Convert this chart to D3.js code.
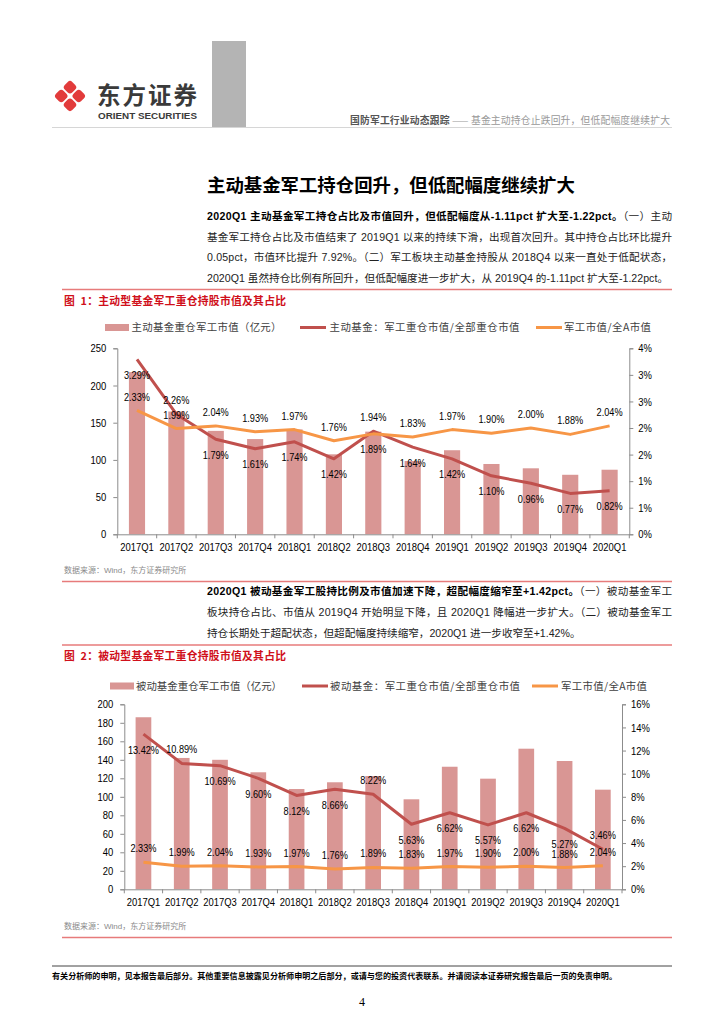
<!DOCTYPE html>
<html><head><meta charset="utf-8">
<script src="https://cdn.jsdelivr.net/npm/d3@7"></script>
<style>
body{margin:0;background:#fff;}
svg{display:block;}
</style></head><body>
<svg id="page" width="724" height="1024"></svg>
<script>
// ---------------- DATA ----------------
const categories = ['2017Q1','2017Q2','2017Q3','2017Q4','2018Q1','2018Q2','2018Q3','2018Q4','2019Q1','2019Q2','2019Q3','2019Q4','2020Q1'];
const activeValue  = [218, 165, 139, 128, 141, 107.5, 138, 98.5, 113, 94.5, 88.7, 80, 86.8];
const activeShare  = [3.29, 2.26, 1.79, 1.61, 1.74, 1.42, 1.94, 1.64, 1.42, 1.10, 0.96, 0.77, 0.82];
const milShare     = [2.33, 1.99, 2.04, 1.93, 1.97, 1.76, 1.89, 1.83, 1.97, 1.90, 2.00, 1.88, 2.04];
const passiveValue = [186, 142, 140, 126.5, 108.4, 115.7, 122.5, 97.3, 132.5, 119.6, 152, 138.7, 107.7];
const passiveShare = [13.42, 10.89, 10.69, 9.60, 8.12, 8.66, 8.22, 5.63, 6.62, 5.57, 6.62, 5.27, 3.46];

const leftTicks1 = [0, 50, 100, 150, 200, 250];
const rightTicks1 = [0, 0.5, 1, 1.5, 2, 2.5, 3, 3.5];
const rightTickLabels1 = ['0%','1%','1%','2%','2%','3%','3%','4%'];
const leftTicks2 = [0, 20, 40, 60, 80, 100, 120, 140, 160, 180, 200];
const rightTicks2 = [0, 2, 4, 6, 8, 10, 12, 14, 16];
const rightTickLabels2 = ['0%','2%','4%','6%','8%','10%','12%','14%','16%'];

const legend1 = ['主动基金重仓军工市值（亿元）', '主动基金：军工重仓市值/全部重仓市值', '军工市值/全A市值'];
const legend2 = ['被动基金重仓军工市值（亿元）', '被动基金：军工重仓市值/全部重仓市值', '军工市值/全A市值'];

// label placement (a = above point, b = below point)
const activeLabelPos  = ['b','a','b','b','b','b','a','b','b','b','b','b','b'];
const milLabelPos1    = ['a','a','a','a','a','a','b','a','a','a','a','a','a'];
const passiveLabelPos = ['b','a','b','b','b','b','a','b','b','b','b','b','a'];
const milLabelPos2    = ['a','a','a','a','a','a','a','a','a','a','a','a','a'];

// ---------------- STYLE ----------------
const CJK = '"Noto Sans CJK SC", sans-serif';
const BODY = '"Liberation Sans", "Noto Sans CJK SC", sans-serif';
const NUM = '"Liberation Sans", sans-serif';
const C_BAR = '#D99694', C_RED = '#C0504D', C_ORG = '#F79646', C_AXIS = '#8C8C8C';
const C_TITLE = '#D0101B', C_RULE = '#E77B7B';

const svg = d3.select('#page');

// narrow the numeric labels (Calibri-like proportions)
function condense(sel, f) {
  sel.each(function () {
    const L = this.getComputedTextLength();
    this.setAttribute('textLength', L * f);
    this.setAttribute('lengthAdjust', 'spacingAndGlyphs');
  });
}

// ---------------- HEADER ----------------
const logo = svg.append('g').attr('transform','translate(70,96) rotate(45)');
const s = 10.6, gap = 1.8;
[[-1,-1],[1,-1],[-1,1],[1,1]].forEach(([i,j]) => {
  logo.append('rect')
    .attr('x', i < 0 ? -s - gap/2 : gap/2).attr('y', j < 0 ? -s - gap/2 : gap/2)
    .attr('width', s).attr('height', s).attr('rx', 3.2).attr('fill', '#E23B3B');
});
svg.append('text').attr('x', 97).attr('y', 103.5).attr('font-family', CJK).attr('font-weight', 700)
  .attr('font-size', 23.5).attr('fill', '#3a3a3a').attr('textLength', 100).text('东方证券');
svg.append('text').attr('x', 98).attr('y', 118.5).attr('font-family', '"Liberation Sans", sans-serif').attr('font-weight', 700)
  .attr('font-size', 8.2).attr('fill', '#3a3a3a').attr('textLength', 99).attr('lengthAdjust','spacingAndGlyphs').text('ORIENT SECURITIES');
svg.append('rect').attr('x', 212).attr('y', 41).attr('width', 34).attr('height', 86).attr('fill', '#B4B4B4');
svg.append('line').attr('x1', 52).attr('x2', 672).attr('y1', 127.5).attr('y2', 127.5).attr('stroke', '#D6D6D6').attr('stroke-width', 1.2);
const ht = svg.append('text').attr('x', 670).attr('y', 124).attr('text-anchor', 'end')
  .attr('font-family', CJK).attr('font-size', 9.8).attr('textLength', 320).attr('lengthAdjust', 'spacing');
ht.append('tspan').attr('fill', '#555').attr('font-weight', 700).text('国防军工行业动态跟踪');
ht.append('tspan').attr('fill', '#999').text(' —— 基金主动持仓止跌回升，但低配幅度继续扩大');

// ---------------- TITLE & PARAGRAPHS ----------------
svg.append('text').attr('x', 207).attr('y', 192).attr('font-family', CJK).attr('font-weight', 700)
  .attr('font-size', 18.4).attr('fill', '#000').text('主动基金军工持仓回升，但低配幅度继续扩大');

function para(x, y, width, parts, justify) {
  const t = svg.append('text').attr('x', x).attr('y', y).attr('font-family', BODY).attr('font-size', 10.6);
  let n = 0;
  parts.forEach(p => {
    t.append('tspan').attr('font-weight', p.b ? 700 : 400).attr('fill', p.b ? '#000' : '#222').text(p.t);
    n += p.t.length;
  });
  if (justify) {
    const len = t.node().getComputedTextLength();
    const ls = (width - len) / (n - 1);
    t.attr('letter-spacing', ls);
  }
}
const P1 = [
  [{t:'2020Q1 主动基金军工持仓占比及市值回升，但低配幅度从-1.11pct 扩大至-1.22pct。', b:true}, {t:'（一）主动'}],
  [{t:'基金军工持仓占比及市值结束了 2019Q1 以来的持续下滑，出现首次回升。其中持仓占比环比提升'}],
  [{t:'0.05pct，市值环比提升 7.92%。（二）军工板块主动基金持股从 2018Q4 以来一直处于低配状态，'}],
  [{t:'2020Q1 虽然持仓比例有所回升，但低配幅度进一步扩大，从 2019Q4 的-1.11pct 扩大至-1.22pct。'}]
];
const p1y = [219.5, 240.5, 261, 281.5];
P1.forEach((l, i) => para(207, p1y[i], i === 3 ? 461 : 465, l, true));

const P2 = [
  [{t:'2020Q1 被动基金军工股持比例及市值加速下降，超配幅度缩窄至+1.42pct。', b:true}, {t:'（一）被动基金军工'}],
  [{t:'板块持仓占比、市值从 2019Q4 开始明显下降，且 2020Q1 降幅进一步扩大。（二）被动基金军工'}],
  [{t:'持仓长期处于超配状态，但超配幅度持续缩窄，2020Q1 进一步收窄至+1.42%。'}]
];
const p2y = [595, 616, 637];
P2.forEach((l, i) => para(207, p2y[i], 465, l, i < 2));

// ---------------- CHARTS ----------------
function chart(cfg) {
  const g = svg.append('g');
  // rule + title
  g.append('line').attr('x1', 62).attr('x2', 672).attr('y1', cfg.ruleY).attr('y2', cfg.ruleY)
    .attr('stroke', C_RULE).attr('stroke-width', 1.6);
  g.append('text').attr('x', 64).attr('y', cfg.ruleY + 15).attr('font-family', CJK).attr('font-weight', 700)
    .attr('font-size', 10.8).attr('fill', C_TITLE).attr('textLength', 222).attr('lengthAdjust', 'spacing')
    .text(cfg.title);
  // legend
  const ly = cfg.legendY;
  g.append('rect').attr('x', cfg.leg[0]).attr('y', ly - 3.5).attr('width', 24).attr('height', 7).attr('fill', C_BAR);
  g.append('line').attr('x1', cfg.leg[2]).attr('x2', cfg.leg[2] + 26).attr('y1', ly).attr('y2', ly).attr('stroke', C_RED).attr('stroke-width', 3);
  g.append('line').attr('x1', cfg.leg[4]).attr('x2', cfg.leg[4] + 26).attr('y1', ly).attr('y2', ly).attr('stroke', C_ORG).attr('stroke-width', 3);
  [1,3,5].forEach((k, i) => {
    g.append('text').attr('x', cfg.leg[k]).attr('y', ly + 3.8).attr('font-family', CJK).attr('font-size', 10.4)
      .attr('fill', '#404040').attr('textLength', cfg.legW[i]).attr('lengthAdjust', 'spacing').text(cfg.legend[i]);
  });

  const x = d3.scaleBand().domain(categories).range([cfg.x0, cfg.x1]).padding(0);
  const yl = d3.scaleLinear().domain(cfg.leftDomain).range([cfg.yB, cfg.yT]);
  const yr = d3.scaleLinear().domain(cfg.rightDomain).range([cfg.yB, cfg.yT]);
  const cx = c => x(c) + x.bandwidth() / 2;

  // bars
  const bw = x.bandwidth() * 0.41;
  g.selectAll('.bar').data(cfg.bars).join('rect')
    .attr('x', (d, i) => cx(categories[i]) - bw / 2).attr('y', d => yl(d))
    .attr('width', bw).attr('height', d => cfg.yB - yl(d)).attr('fill', C_BAR);

  // axes
  const la = g.append('g').attr('transform', `translate(${cfg.x0},0)`)
    .call(d3.axisLeft(yl).tickValues(cfg.leftTicks).tickSize(4).tickPadding(7));
  const ra = g.append('g').attr('transform', `translate(${cfg.x1},0)`)
    .call(d3.axisRight(yr).tickValues(cfg.rightTicks).tickSize(4).tickPadding(5)
      .tickFormat((d, i) => cfg.rightLabels[i]));
  const ba = g.append('g').attr('transform', `translate(0,${cfg.yB})`)
    .call(d3.axisBottom(x).tickSize(0).tickPadding(9));
  // boundary ticks on the category axis
  const edges = categories.map(c => x(c)).concat([cfg.x1]);
  g.selectAll('.btick').data(edges).join('line')
    .attr('x1', d => d).attr('x2', d => d).attr('y1', cfg.yB).attr('y2', cfg.yB + 4)
    .attr('stroke', C_AXIS);
  [la, ra, ba].forEach(a => {
    a.selectAll('path.domain').attr('stroke', C_AXIS);
    a.selectAll('.tick line').attr('stroke', C_AXIS);
    a.selectAll('text').attr('font-family', NUM).attr('font-size', 11.5).attr('fill', '#000');
    condense(a.selectAll('text'), 0.82);
  });

  // lines
  const line = d3.line().x((d, i) => cx(categories[i])).y(d => yr(d));
  g.append('path').datum(cfg.s1).attr('d', line).attr('fill', 'none').attr('stroke', C_RED).attr('stroke-width', 3).attr('stroke-linejoin', 'round');
  g.append('path').datum(cfg.s2).attr('d', line).attr('fill', 'none').attr('stroke', C_ORG).attr('stroke-width', 3).attr('stroke-linejoin', 'round');

  // data labels
  const lab = (vals, pos) => {
    const t = g.selectAll(null).data(vals).join('text')
      .attr('x', (d, i) => cx(categories[i])).attr('y', (d, i) => yr(d) + (pos[i] === 'a' ? -14 : 15.5))
      .attr('dy', '0.36em').attr('text-anchor', 'middle')
      .attr('font-family', NUM).attr('font-size', 11.2).attr('fill', '#000')
      .text(d => d.toFixed(2) + '%');
    condense(t, 0.82);
  };
  lab(cfg.s1, cfg.p1);
  lab(cfg.s2, cfg.p2);

  // source & bottom rule
  g.append('text').attr('x', 64).attr('y', cfg.srcY).attr('font-family', BODY).attr('font-size', 8)
    .attr('fill', '#8a8a8a').text('数据来源：Wind，东方证券研究所');
  g.append('line').attr('x1', 62).attr('x2', 672).attr('y1', cfg.srcY + 8.5).attr('y2', cfg.srcY + 8.5)
    .attr('stroke', C_RULE).attr('stroke-width', 1.6);
}

chart({
  ruleY: 289.5, title: '图\u00a0\u00a01：主动型基金军工重仓持股市值及其占比',
  legendY: 327.5, leg: [105, 131.5, 300, 329.5, 536, 564], legW: [150, 190, 87], legend: legend1,
  x0: 117.3, x1: 629.3, yT: 348.3, yB: 534.3,
  leftDomain: [0, 250], rightDomain: [0, 3.5],
  leftTicks: leftTicks1, rightTicks: rightTicks1, rightLabels: rightTickLabels1,
  bars: activeValue, s1: activeShare, s2: milShare, p1: activeLabelPos, p2: milLabelPos1,
  srcY: 573
});
chart({
  ruleY: 645, title: '图\u00a0\u00a02：被动型基金军工重仓持股市值及其占比',
  legendY: 686, leg: [110, 136, 302, 330, 532, 561], legW: [146, 190, 86], legend: legend2,
  x0: 124.3, x1: 622, yT: 704.3, yB: 889.3,
  leftDomain: [0, 200], rightDomain: [0, 16],
  leftTicks: leftTicks2, rightTicks: rightTicks2, rightLabels: rightTickLabels2,
  bars: passiveValue, s1: passiveShare, s2: milShare, p1: passiveLabelPos, p2: milLabelPos2,
  srcY: 929
});

// ---------------- FOOTER ----------------
svg.append('line').attr('x1', 52).attr('x2', 672).attr('y1', 966).attr('y2', 966).attr('stroke', '#444').attr('stroke-width', 1);
svg.append('text').attr('x', 52).attr('y', 979).attr('font-family', CJK).attr('font-weight', 700).attr('font-size', 8.2)
  .attr('fill', '#000').attr('textLength', 565).attr('lengthAdjust', 'spacingAndGlyphs')
  .text('有关分析师的申明，见本报告最后部分。其他重要信息披露见分析师申明之后部分，或请与您的投资代表联系。并请阅读本证券研究报告最后一页的免责申明。');
svg.append('text').attr('x', 362).attr('y', 1006).attr('text-anchor', 'middle').attr('font-family', '"Liberation Serif", serif')
  .attr('font-size', 12).attr('fill', '#000').text('4');
</script>
</body></html>
